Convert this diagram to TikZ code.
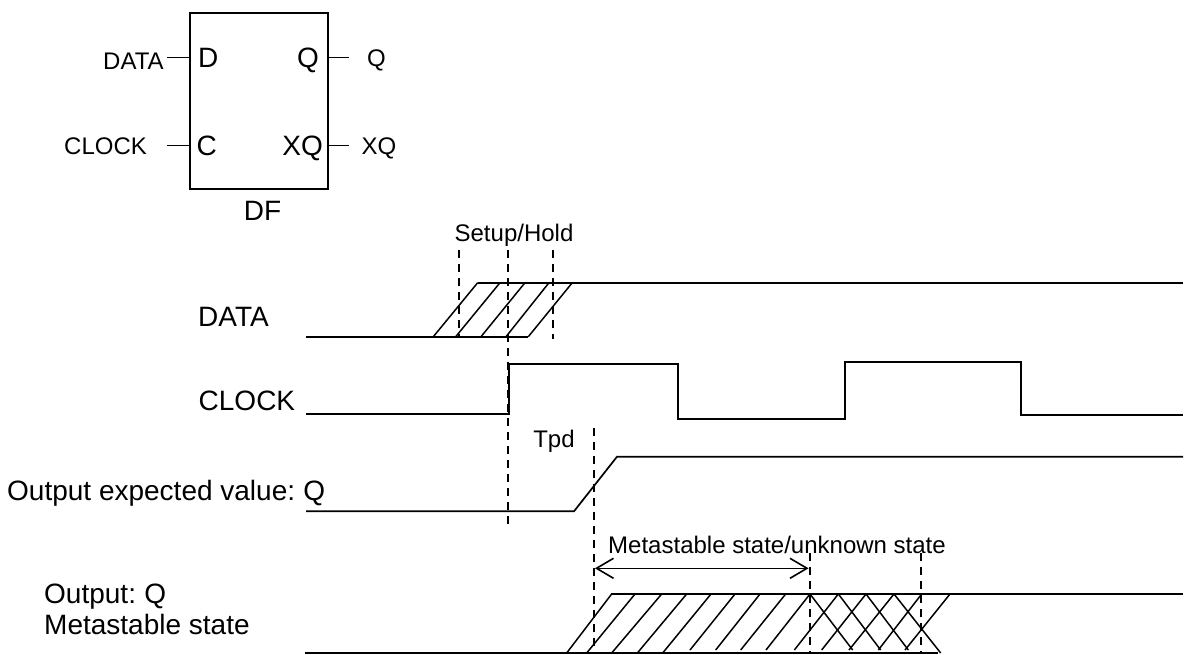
\documentclass[tikz,border=0pt]{standalone}
\usepackage{fontspec}
\setmainfont{Liberation Sans}
\tikzset{
  wave/.style={line width=1.7pt,line join=miter},
  hatch/.style={line width=1.5pt},
  guide/.style={line width=1.7pt,dash pattern=on 8pt off 6pt},
  pin/.style={line width=1.6pt},
  barb/.style={line width=1.6pt,line join=miter},
  lab/.style={inner sep=0pt,font=\fontsize{24}{28}\selectfont},
  big/.style={inner sep=0pt,font=\fontsize{28}{32}\selectfont},
}
\begin{document}
\begin{tikzpicture}[x=1pt,y=-1pt]
\useasboundingbox (0,0) rectangle (1188,655);
% flip-flop
\node[draw,line width=2pt,minimum width=138pt,minimum height=176.5pt,inner sep=0pt,anchor=north west] (ff) at (188.5,12) {};
\node[big,anchor=base west] (pd) at (198,67.7) {D};
\node[big,anchor=base west] (pc) at (196.5,156) {C};
\node[big,anchor=base east] (pq) at (319,68) {Q};
\node[big,anchor=base east] (pxq) at (323,156) {XQ};
\node[big,anchor=base] (df) at (262.5,220.7) {DF};
\node[lab,anchor=base west] (ldata) at (103,70) {DATA};
\node[lab,anchor=base west] (lclock) at (64,155) {CLOCK};
\node[lab,anchor=base] (lq) at (376.5,66.7) {Q};
\node[lab,anchor=base] (lxq) at (379,155) {XQ};
\coordinate (a1) at (167,57.5); \coordinate (a2) at (188.5,57.5);
\coordinate (b1) at (167,145.7); \coordinate (b2) at (188.5,145.7);
\coordinate (c1) at (326.5,57.5); \coordinate (c2) at (349,57.5);
\coordinate (d1) at (326.5,145.7); \coordinate (d2) at (349,145.7);
\draw[pin] (a1)--(a2); \draw[pin] (b1)--(b2); \draw[pin] (c1)--(c2); \draw[pin] (d1)--(d2);
% left labels
\node[big,anchor=base west] (wdata) at (198,326.7) {DATA};
\node[big,anchor=base west] (wclock) at (198.5,410.7) {CLOCK};
\node[big,anchor=base west] (wexp) at (7,500) {Output expected value:\kern-2pt{} Q};
\node[big,anchor=base west] (wo1) at (44,603) {Output:\kern-2pt{} Q};
\node[big,anchor=base west] (wo2) at (44,634) {Metastable state};
\node[lab,anchor=base] (tsh) at (514,241) {Setup/Hold};
\node[lab,anchor=base] (ttpd) at (554,447) {Tpd};
\node[lab,anchor=base] (tms) at (777,553) {Metastable state/unknown state};
% DATA
\draw[wave] (306,336.7)--(528.3,336.7);
\draw[wave] (477.7,282.7)--(1183,282.7);
\foreach \b/\t in {433.3/477.7,455.7/500,481/525,506/549,528.3/572.3}
  \draw[hatch] (\b,336.7)--(\t,282.7);
% CLOCK
\draw[wave] (306,414)--(509,414)--(509,364)--(678,364)--(678,419)--(845,419)--(845,362)--(1021,362)--(1021,415)--(1183,415);
% Q expected
\draw[wave] (306,511.3)--(574,511.3)--(617,456.7)--(1183,456.7);
% Output Q
\draw[wave] (305,653)--(938,653);
\draw[wave] (611,594)--(1183,594);
\foreach \b/\t in {50/185,110/255,185/335,262/410,338/483}
  \draw[hatch] ({550+\b/3},653)--({550+\t/3},594);
\foreach \b/\t in {420/555,497/630,572/707,648/780,733/865,815/948,897/1032,985/1115,1065/1200}
  \draw[hatch] ({550+\b/3},650)--({550+\t/3},594);
\foreach \t/\b in {780/908,865/992,948/1075}
  \draw[hatch] ({550+\t/3},594)--({550+\b/3},650);
\draw[hatch] ({550+1032/3},594)--({550+1172/3},653);
% guides
\draw[guide] (459,250)--(459,336);
\draw[guide] (508,250)--(508,525);
\draw[guide] (553,250)--(553,339);
\draw[guide] (594,428)--(594,652);
\draw[guide] (810,553)--(810,652);
\draw[guide] (921,553)--(921,652);
% arrow
\coordinate (m1) at (596.5,568.3); \coordinate (m2) at (807,568.3);
\draw[pin] (m1)--(m2);
\draw[barb] ([shift={(17,-10)}]m1)--(m1)--([shift={(17,10)}]m1);
\draw[barb] ([shift={(-17,-10)}]m2)--(m2)--([shift={(-17,10)}]m2);
\end{tikzpicture}
\end{document}
